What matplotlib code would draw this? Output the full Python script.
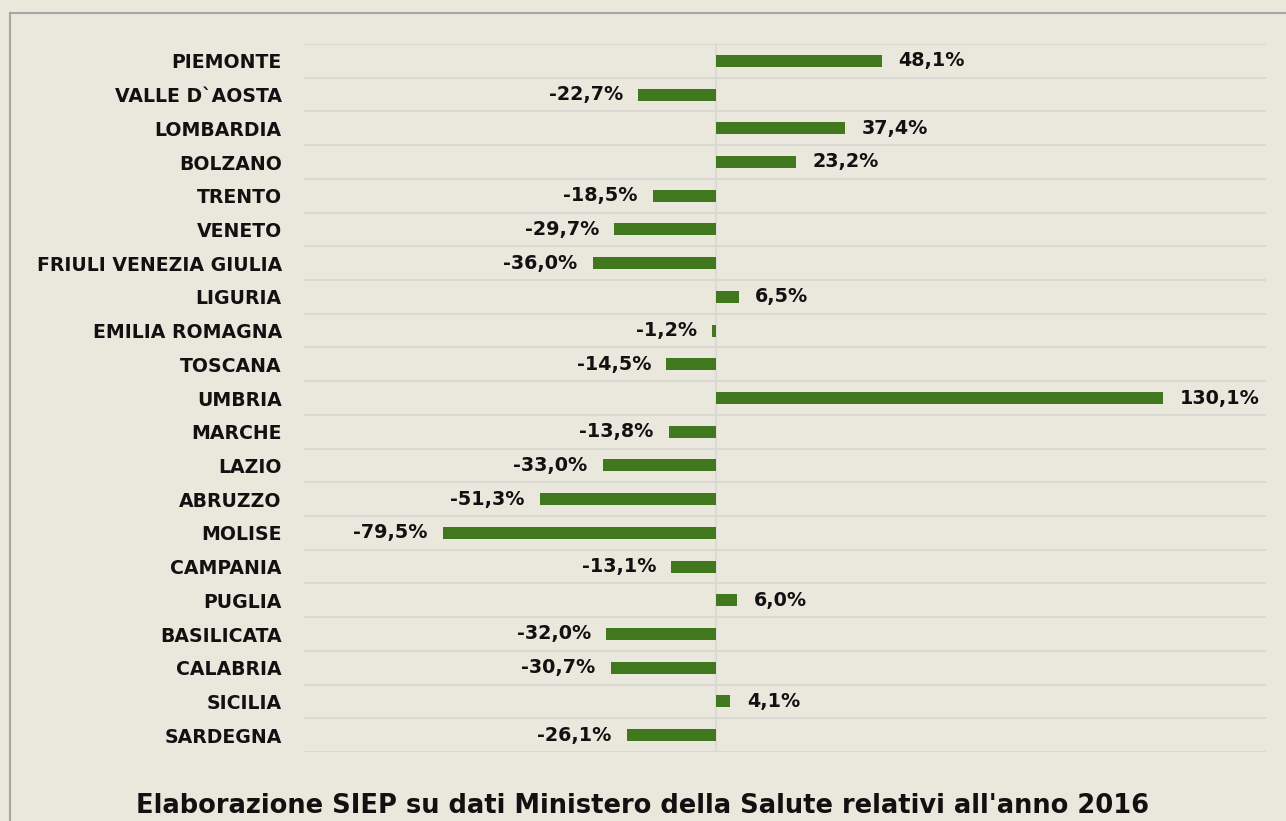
import matplotlib.pyplot as plt

regioni = ["PIEMONTE", "VALLE D`AOSTA", "LOMBARDIA", "BOLZANO", "TRENTO", "VENETO",
           "FRIULI VENEZIA GIULIA", "LIGURIA", "EMILIA ROMAGNA", "TOSCANA", "UMBRIA",
           "MARCHE", "LAZIO", "ABRUZZO", "MOLISE", "CAMPANIA", "PUGLIA", "BASILICATA",
           "CALABRIA", "SICILIA", "SARDEGNA"]
variazione = [48.1, -22.7, 37.4, 23.2, -18.5, -29.7, -36.0, 6.5, -1.2, -14.5, 130.1,
              -13.8, -33.0, -51.3, -79.5, -13.1, 6.0, -32.0, -30.7, 4.1, -26.1]
titolo = "Elaborazione SIEP su dati Ministero della Salute relativi all'anno 2016"

bg = "#EAE7DD"
verde = "#41781D"

fig = plt.figure(figsize=(12.86, 8.21), dpi=100, facecolor=bg)
ax = fig.add_axes([304 / 1286, 1 - 752 / 821, (1266 - 304) / 1286, (752 - 44) / 821])
ax.set_facecolor(bg)

y = list(range(len(regioni)))
ax.barh(y, variazione, height=0.36, color=verde, zorder=3)
ax.set_ylim(len(regioni) - 0.5, -0.5)
ax.set_xlim(-120, 160)

# gridlines between categories
for k in range(len(regioni) + 1):
    ax.axhline(k - 0.5, color="#DAD8D3", lw=1.5, zorder=1)
ax.axvline(0, color="#DAD8D3", lw=1.2, zorder=1)

for sp in ax.spines.values():
    sp.set_visible(False)
ax.set_xticks([])
ax.set_yticks(y)
ax.set_yticklabels(regioni, fontsize=13.6, fontweight="bold", color="#111111")
ax.tick_params(axis="y", length=0, pad=16)

for i, v in enumerate(variazione):
    txt = f"{v:.1f}%".replace(".", ",")
    if v >= 0:
        ax.annotate(txt, (v, i), xytext=(12, 0), textcoords="offset points",
                    ha="left", va="center", fontsize=13.8, fontweight="bold", color="#111111")
    else:
        ax.annotate(txt, (v, i), xytext=(-11, 0), textcoords="offset points",
                    ha="right", va="center", fontsize=13.8, fontweight="bold", color="#111111")

fig.text(0.5, 1 - 806 / 821, titolo, ha="center", va="center",
         fontsize=18.5, fontweight="bold", color="#111111")

# frame
fig.add_artist(plt.Line2D([10 / 1286, 10 / 1286], [0, 1 - 13 / 821], transform=fig.transFigure,
                          color="#A6A6A6", lw=1.5))
fig.add_artist(plt.Line2D([10 / 1286, 1], [1 - 13 / 821, 1 - 13 / 821], transform=fig.transFigure,
                          color="#A6A6A6", lw=1.5))

fig.savefig("out.png", dpi=100, facecolor=bg)
